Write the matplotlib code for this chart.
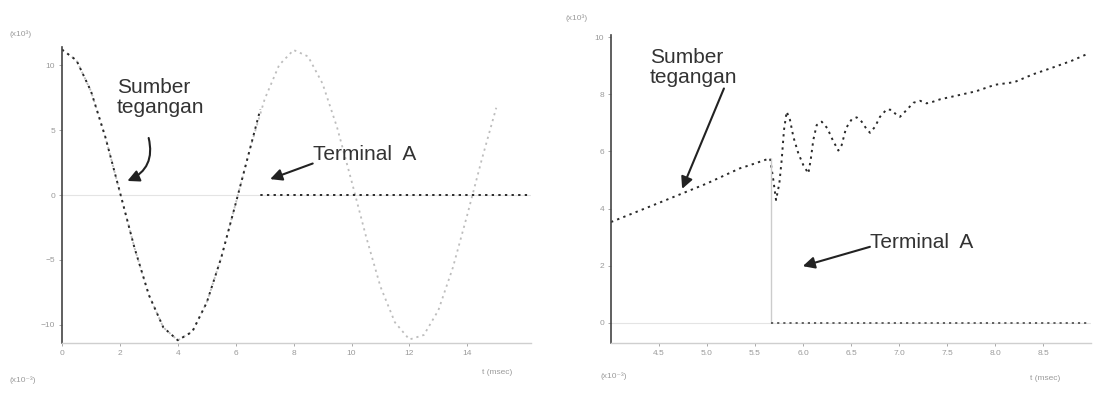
import numpy as np
import matplotlib
matplotlib.use("Agg")
import matplotlib.pyplot as plt

plt.rcParams['font.family'] = ['Liberation Sans', 'DejaVu Sans']

# --- left panel: source voltage and terminal A over several cycles ---
t_src = [0.0, 0.5, 1.0, 1.5, 2.0, 2.5, 3.0, 3.5, 4.0, 4.5, 5.0, 5.5, 6.0, 6.5,
         7.0, 7.5, 8.0, 8.5, 9.0, 9.5, 10.0, 10.5, 11.0, 11.5, 12.0, 12.5,
         13.0, 13.5, 14.0, 14.5, 15.0]
v_src = [11.2, 10.37, 8.0, 4.44, 0.22, -4.04, -7.7, -10.2, -11.19, -10.53,
         -8.28, -4.83, -0.65, 3.61, 7.38, 10.01, 11.17, 10.67, 8.58, 5.22,
         1.09, -3.18, -7.06, -9.81, -11.13, -10.78, -8.88, -5.6, -1.52, 2.74,
         6.72]

# terminal A follows the source until the breaker opens, then sits at zero
t_term = [0.0, 0.5, 1.0, 1.5, 2.0, 2.5, 3.0, 3.5, 4.0, 4.5, 5.0, 5.5, 6.0,
          6.5, 6.85, np.nan, 6.85, 16.2]
v_term = [11.2, 10.37, 8.0, 4.44, 0.22, -4.04, -7.7, -10.2, -11.19, -10.53,
          -8.28, -4.83, -0.65, 3.61, 6.6, np.nan, 0.0, 0.0]

xt_left = [0, 2, 4, 6, 8, 10, 12, 14]
yt_left = [-10, -5, 0, 5, 10]

# --- right panel: zoom around the opening instant ---
u_src = [0.0, 1.0, 2.0, 2.688, 2.896, 3.104, 3.313, 3.382, 3.438, 3.507,
         3.556, 3.604, 3.66, 3.729, 3.799, 3.903, 4.007, 4.111, 4.16, 4.215,
         4.285, 4.389, 4.507, 4.618, 4.736, 4.806, 4.896, 5.014, 5.118,
         5.222, 5.313, 5.396, 5.5, 5.604, 5.743, 5.847, 5.951, 6.021, 6.16,
         6.299, 6.438, 6.576, 6.715, 6.854, 7.2, 7.6, 8.0, 8.4, 8.8, 9.2,
         9.6, 9.94]
w_src = [3.53, 4.2, 4.88, 5.41, 5.52, 5.64, 5.76, 5.0, 4.3, 4.88, 5.7, 6.75,
         7.39, 7.1, 6.51, 5.93, 5.52, 5.23, 5.7, 6.4, 6.92, 7.04, 6.81, 6.4,
         6.03, 6.22, 6.81, 7.12, 7.19, 7.04, 6.81, 6.65, 6.86, 7.21, 7.47,
         7.45, 7.27, 7.21, 7.45, 7.7, 7.77, 7.68, 7.74, 7.82, 7.95, 8.1,
         8.33, 8.42, 8.7, 8.93, 9.17, 9.42]

u_open = 3.33
w_open = 5.76
u_term = [3.33, 9.98]
w_term = [0.0, 0.0]

xt_right = [1, 2, 3, 4, 5, 6, 7, 8, 9]
xt_right_lbl = ['4.5', '5.0', '5.5', '6.0', '6.5', '7.0', '7.5', '8.0', '8.5']
yt_right = [0, 2, 4, 6, 8, 10]

dots = (0, (1.2, 2.2))
tick_col = '#9a9a9a'

fig = plt.figure(figsize=(11.01, 3.99), dpi=100)
W, H = 1101, 399
ax1 = fig.add_axes([62 / W, 1 - 343 / H, (531 - 62) / W, (343 - 47) / H])
ax2 = fig.add_axes([611 / W, 1 - 343 / H, (1091 - 611) / W, (343 - 35) / H])

for ax in (ax1, ax2):
    for s in ('top', 'right'):
        ax.spines[s].set_visible(False)
    ax.spines['left'].set_color('#444444')
    ax.spines['left'].set_linewidth(1.2)
    ax.spines['bottom'].set_color('#cfcfcf')
    ax.spines['bottom'].set_linewidth(1.0)
    ax.tick_params(colors=tick_col, labelsize=6, length=2, width=0.6, pad=3)
    ax.axhline(0, color='#e4e4e4', lw=0.8, zorder=0)

# left panel
ax1.plot(t_src, v_src, color='#bdbdbd', lw=1.3, ls=dots)
ax1.plot(t_term, v_term, color='#2a2a2a', lw=1.4, ls=dots)
ax1.set_xlim(0, 16.2)
ax1.set_ylim(-11.4, 11.4)
ax1.set_xticks(xt_left)
ax1.set_yticks(yt_left)

ax1.text(1.9, 9.0, 'Sumber\ntegangan', fontsize=15, color='#333333',
         va='top', ha='left', linespacing=1.05)
ax1.annotate('', xy=(2.17, 1.0), xytext=(2.97, 4.6),
             arrowprops=dict(arrowstyle='-|>,head_length=0.7,head_width=0.35',
                             color='#222222', lw=1.5,
                             connectionstyle='arc3,rad=-0.45'))
ax1.text(8.66, 3.1, 'Terminal  A', fontsize=15, color='#333333',
         va='center', ha='left')
ax1.annotate('', xy=(7.1, 1.15), xytext=(8.75, 2.5),
             arrowprops=dict(arrowstyle='-|>,head_length=0.7,head_width=0.35',
                             color='#222222', lw=1.5))

# right panel
ax2.plot(u_src, w_src, color='#2a2a2a', lw=1.4, ls=dots)
ax2.vlines(u_open, 0, w_open, color='#cccccc', lw=1.0)
ax2.plot(u_term, w_term, color='#555555', lw=1.3, ls=dots)
ax2.set_xlim(0, 10.0)
ax2.set_ylim(-0.7, 10.07)
ax2.set_xticks(xt_right)
ax2.set_xticklabels(xt_right_lbl)
ax2.set_yticks(yt_right)

ax2.text(0.81, 9.62, 'Sumber\ntegangan', fontsize=15, color='#333333',
         va='top', ha='left', linespacing=1.05)
ax2.annotate('', xy=(1.46, 4.6), xytext=(2.375, 8.29),
             arrowprops=dict(arrowstyle='-|>,head_length=0.7,head_width=0.35',
                             color='#222222', lw=1.5))
ax2.text(5.4, 2.83, 'Terminal  A', fontsize=15, color='#333333',
         va='center', ha='left')
ax2.annotate('', xy=(3.94, 1.96), xytext=(5.45, 2.69),
             arrowprops=dict(arrowstyle='-|>,head_length=0.7,head_width=0.35',
                             color='#222222', lw=1.5))

# axis unit captions
fig.text(10 / W, 1 - 36 / H, '(x10³)', fontsize=6, color=tick_col)
fig.text(10 / W, 1 - 382 / H, '(x10⁻³)', fontsize=6, color=tick_col)
fig.text(482 / W, 1 - 374 / H, 't (msec)', fontsize=6, color=tick_col)
fig.text(566 / W, 1 - 20 / H, '(x10³)', fontsize=6, color=tick_col)
fig.text(600 / W, 1 - 378 / H, '(x10⁻³)', fontsize=6, color=tick_col)
fig.text(1030 / W, 1 - 380 / H, 't (msec)', fontsize=6, color=tick_col)

fig.savefig('out.png', dpi=100)
